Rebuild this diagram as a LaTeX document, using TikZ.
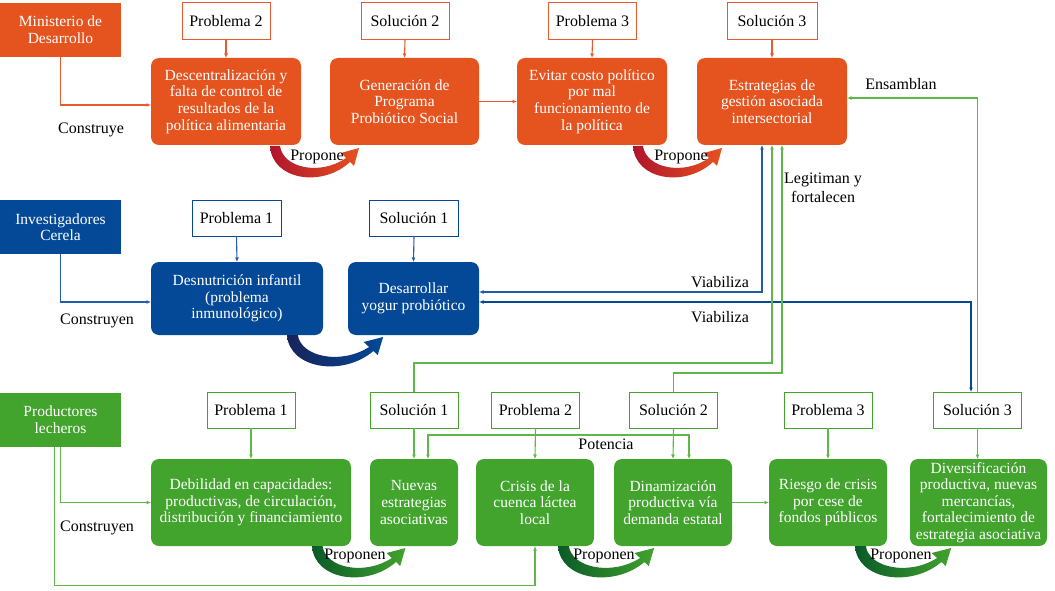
\documentclass[tikz,border=0pt]{standalone}
\usepackage{fontspec}
\setmainfont{Liberation Serif}
\usetikzlibrary{arrows.meta}
\definecolor{cOr}{RGB}{229,83,31}
\definecolor{cOrL}{RGB}{232,90,45}
\definecolor{cOrD}{RGB}{176,20,45}
\definecolor{cBl}{RGB}{3,73,151}
\definecolor{cBlL}{RGB}{35,92,170}
\definecolor{cBlD}{RGB}{25,35,90}
\definecolor{cGr}{RGB}{66,163,45}
\definecolor{cGrL}{RGB}{94,184,72}
\definecolor{cGrD}{RGB}{10,90,40}
\newcommand{\fsz}{\fontsize{15.5}{16.6}\selectfont}
\newcommand{\fsl}{\fontsize{16}{19}\selectfont}
\newcommand{\mycrescent}[4]{%
  \shade[shift={#1}, xscale=#2, left color=#3, right color=#4]
    (0,0) .. controls (2,34) and (52,42) .. (80,16) -- (84,20) -- (89,2) -- (71,7) -- (76,12)
    .. controls (50,30) and (13,22) .. (10,0) -- cycle;}
\tikzset{
  actor/.style={rectangle, minimum width=121pt, minimum height=54pt, inner sep=0pt, outer sep=0pt, text=white, align=center, font=\fsz},
  probox/.style={rectangle, draw, fill=white, minimum width=88pt, minimum height=37pt, inner sep=0pt, outer sep=0pt, line width=1pt, font=\fsl, text=black},
  bigbox/.style={rectangle, rounded corners=8pt, minimum height=87pt, inner sep=0pt, outer sep=0pt, text=white, align=center, font=\fsz},
  lbl/.style={inner sep=0pt, font=\fsl, text=black, align=center},
  conn/.style={line width=1.1pt},
  >={Latex[length=4.5pt,width=4pt]}
}
\begin{document}
\begin{tikzpicture}[x=1pt, y=-1pt]
\useasboundingbox (0,0) rectangle (1055,591);

% ---------- orange row ----------
\node[actor, fill=cOr] (min) at (60.5,30) {Ministerio de\\Desarrollo};
\node[probox, draw=cOrL] (p2) at (226,21.5) {Problema 2};
\node[bigbox, fill=cOr, minimum width=150pt] (des) at (226,101.5) {Descentralización y\\falta de control de\\resultados de la\\política alimentaria};
\node[probox, draw=cOrL] (s2) at (405,21.5) {Solución 2};
\node[bigbox, fill=cOr, minimum width=149pt] (gen) at (404.5,101.5) {Generación de\\Programa\\Probiótico Social};
\node[probox, draw=cOrL] (p3) at (592.5,21.5) {Problema 3};
\node[bigbox, fill=cOr, minimum width=150pt] (evi) at (592,101.5) {Evitar costo político\\por mal\\funcionamiento de\\la política};
\node[probox, draw=cOrL, minimum width=90pt] (s3) at (772,21.5) {Solución 3};
\node[bigbox, fill=cOr, minimum width=150pt] (est) at (772,101.5) {Estrategias de\\gestión asociada\\intersectorial};

% ---------- blue row ----------
\node[actor, fill=cBl] (inv) at (60.5,227) {Investigadores\\Cerela};
\node[probox, draw=cBl, minimum width=89pt, minimum height=36pt] (bp1) at (236.5,218) {Problema 1};
\node[bigbox, fill=cBl, minimum width=172pt, minimum height=73pt] (desn) at (237,298.5) {Desnutrición infantil\\(problema\\inmunológico)};
\node[probox, draw=cBl, minimum width=89pt, minimum height=36pt] (bs1) at (414,218) {Solución 1};
\node[bigbox, fill=cBl, minimum width=131pt, minimum height=73pt] (desa) at (413.5,298.5) {Desarrollar\\yogur probiótico};

% ---------- green row ----------
\node[actor, fill=cGr] (prod) at (60.5,419.5) {Productores\\lecheros};
\node[probox, draw=cGr, minimum height=36pt] (gp1) at (251,410) {Problema 1};
\node[bigbox, fill=cGr, minimum width=200pt] (deb) at (251,502.5) {Debilidad en capacidades:\\productivas, de circulación,\\distribución y financiamiento};
\node[probox, draw=cGr, minimum height=36pt] (gs1) at (414,410) {Solución 1};
\node[bigbox, fill=cGr, minimum width=88pt] (nue) at (414,502.5) {Nuevas\\estrategias\\asociativas};
\node[probox, draw=cGr, minimum height=36pt] (gp2) at (535.5,410) {Problema 2};
\node[bigbox, fill=cGr, minimum width=118pt] (cri) at (535,502.5) {Crisis de la\\cuenca láctea\\local};
\node[probox, draw=cGr, minimum height=36pt] (gs2) at (673.5,410) {Solución 2};
\node[bigbox, fill=cGr, minimum width=118pt] (din) at (673,502.5) {Dinamización\\productiva vía\\demanda estatal};
\node[probox, draw=cGr, minimum height=36pt] (gp3) at (828,410) {Problema 3};
\node[bigbox, fill=cGr, minimum width=118pt] (rie) at (828,502.5) {Riesgo de crisis\\por cese de\\fondos públicos};
\node[probox, draw=cGr, minimum height=36pt] (gs3) at (977.5,410) {Solución 3};
\node[bigbox, fill=cGr, minimum width=137pt] (div) at (978.5,502.5) {Diversificación\\productiva, nuevas\\mercancías,\\fortalecimiento de\\estrategia asociativa};

% ---------- orange connectors ----------
\draw[conn, cOrL, ->] (min.south) |- ([yshift=-3.5pt]des.west);
\draw[conn, cOrL, ->] (p2.south) -- (des.north);
\draw[conn, cOrL, ->] (s2.south) -- (gen.north);
\draw[conn, cOrL, ->] (gen.east) -- (evi.west);
\draw[conn, cOrL, ->] (p3.south) -- (evi.north);
\draw[conn, cOrL, ->] (s3.south) -- (est.north);

% ---------- blue connectors ----------
\draw[conn, cBlL, ->] (inv.south) |- ([yshift=-3.5pt]desn.west);
\draw[conn, cBlL, ->] (bp1.south) -- (desn.north);
\draw[conn, cBlL, ->] (bs1.south) -- (desa.north);
\draw[conn, cBlL, <->] ([xshift=-10pt]est.south) |- ([yshift=6.5pt]desa.east);
\draw[conn, cBl, <->] ([yshift=-3.5pt]desa.east) -| ([xshift=-6.5pt]gs3.north);

% ---------- green connectors ----------
\draw[conn, cGrL, ->] (prod.south) |- (deb.west);
\draw[conn, cGrL, ->] ([xshift=-6pt]prod.south) -- ++(0,139) -| (cri.south);
\draw[conn, cGrL, ->] (gp1.south) -- (deb.north);
\draw[conn, cGrL, ->] (gs1.south) -- (nue.north);
\draw[conn, cGrL, ->] (gp2.south) -- (cri.north);
\draw[conn, cGrL, ->] (gs2.south) -- (din.north);
\draw[conn, cGrL, <->] ([xshift=14pt]nue.north) -- ++(0,-24) -| ([xshift=16pt]din.north);
\draw[conn, cGrL, ->] (din.east) -- (rie.west);
\draw[conn, cGrL, ->] (gp3.south) -- (rie.north);
\draw[conn, cGrL, ->] (gs3.south) -- ([xshift=-1pt]div.north);
\draw[conn, cGrL, ->] (gs1.north) -- ++(0,-29) -| (est.south);
\draw[conn, cGrL, ->] (gs2.north) -- ++(0,-19) -| ([xshift=10pt]est.south);
\draw[conn, cGrL, ->] (gs3.north) |- ([yshift=3.5pt]est.east);

% ---------- crescents ----------
\mycrescent{(270,146)}{1}{cOrD}{cOr}
\mycrescent{(633,146)}{1}{cOrD}{cOr}
\mycrescent{(287,335)}{1.08}{cBlD}{cBl}
\mycrescent{(312,546)}{1.05}{cGrD}{cGr}
\mycrescent{(558,546)}{1.08}{cGrD}{cGr}
\mycrescent{(855,546)}{1.08}{cGrD}{cGr}

% ---------- labels ----------
\node[lbl] (l1) at (91,130) {Construye};
\node[lbl] (l2) at (97,321) {Construyen};
\node[lbl] (l3) at (97,528) {Construyen};
\node[lbl] (l4) at (901,84) {Ensamblan};
\node[lbl] (l5) at (823,188) {Legitiman y\\fortalecen};
\node[lbl] (l6) at (720,282) {Viabiliza};
\node[lbl] (l7) at (720,317) {Viabiliza};
\node[lbl] (l8) at (606,444) {Potencia};
\node[lbl] (l9) at (317,157) {Propone};
\node[lbl] (l10) at (681,157) {Propone};
\node[lbl] (l11) at (355,556) {Proponen};
\node[lbl] (l12) at (604,556) {Proponen};
\node[lbl] (l13) at (901,556) {Proponen};
\end{tikzpicture}
\end{document}
